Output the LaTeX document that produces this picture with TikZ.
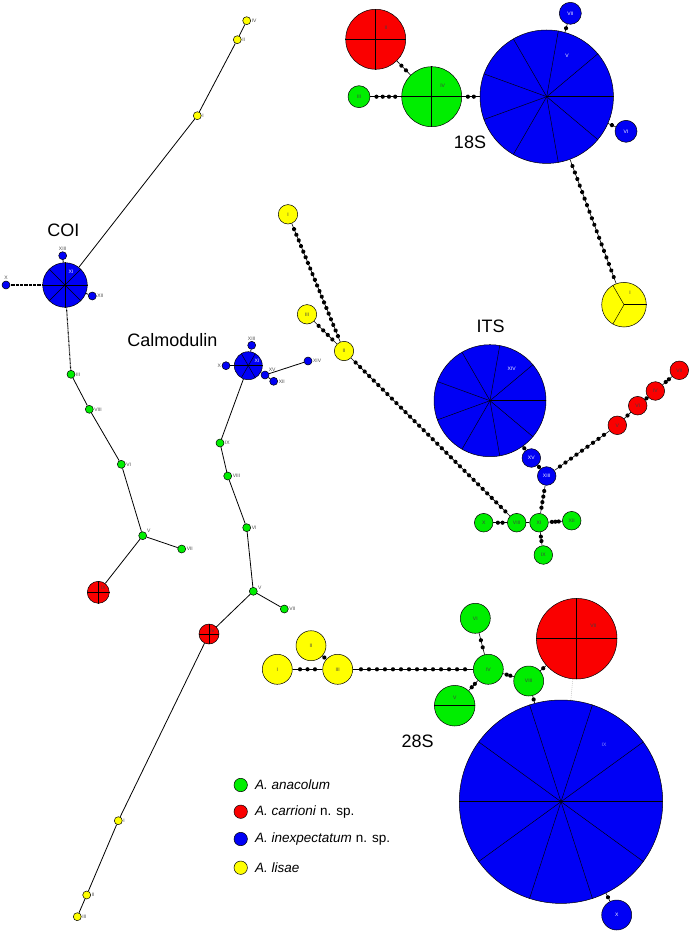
\documentclass[tikz,border=0pt]{standalone}
\usepackage{fontspec}
\setmainfont{Liberation Sans}
\usetikzlibrary{decorations.markings}
\definecolor{hg}{RGB}{0,238,0}
\definecolor{hr}{RGB}{250,0,0}
\definecolor{hb}{RGB}{0,0,245}
\definecolor{hy}{RGB}{255,255,0}
\newcommand\pieslices[2]{\foreach \a in {#2} \draw[sl] (#1.center) -- (#1.\a);}
\begin{document}
\begin{tikzpicture}[x=1pt,y=-1pt,
  hap/.style={circle,draw=black,line width=0.5pt,inner sep=0pt,font=\fontsize{5}{6}\selectfont},
  G/.style={hap,fill=hg,text=black!75,minimum size=2*#1pt},
  R/.style={hap,fill=hr,text=black!75,minimum size=2*#1pt},
  B/.style={hap,fill=hb,text=white,minimum size=2*#1pt},
  Y/.style={hap,fill=hy,text=black!75,minimum size=2*#1pt},
  sl/.style={draw=black,line width=0.45pt},
  lab/.style={inner sep=0pt,font=\fontsize{5}{6}\selectfont},
  side/.style={inner sep=0.6pt,font=\fontsize{5}{6}\selectfont,text=black!70},
  title/.style={inner sep=0pt,font=\fontsize{18}{20}\selectfont},
  legtxt/.style={inner sep=0pt,anchor=west,font=\fontsize{13.5}{15}\selectfont},
  conn/.style={draw=black,line width=0.6pt},
  thin/.style={draw=black,line width=0.8pt},
  dense/.style={draw=black,line width=1.1pt,dash pattern=on 0.7pt off 0.6pt},
  faint/.style={draw=black!25,line width=0.5pt,dash pattern=on 1pt off 1pt},
  mut/.style={conn,postaction={decorate,decoration={markings,
     mark=between positions 1/(#1+1) and (#1+0.5)/(#1+1) step 1/(#1+1) with {\fill[black] (0,0) circle (2.1pt);}}}}
]
\useasboundingbox (0,0) rectangle (691,933);

% ================= 18S =================
\node[R=30] (s2) at (375.7,39.3) {};
\node[G=30] (s4) at (431.7,96.7) {};
\node[G=11] (s3) at (359,96.7) {III};
\node[B=66.7] (s5) at (546.7,96.7) {};
\node[B=11] (s7) at (570.3,13.3) {VII};
\node[B=11] (s6) at (626,131.3) {VI};
\node[Y=22.3] (s1) at (624,304.7) {};
\pieslices{s2}{0,90,180,270}
\pieslices{s4}{0,90,180,270}
\pieslices{s5}{0,40,80,120,160,200,240,280,320}
\pieslices{s1}{0,120,240}
\node[lab,text=black!75] (s2l) at (386,28) {II};
\node[lab,text=black!75] (s4l) at (442.7,86) {IV};
\node[lab,text=white] (s5l) at (567,55.7) {V};
\node[lab,text=black!75] (s1l) at (630,293) {I};
\draw[mut=4] (s3) -- (s4);
\draw[mut=2] (s4) -- (s5);
\draw[mut=2] (s2) -- (s4);
\draw[mut=1] (s5) -- (s7);
\draw[mut=1] (s5) -- (s6);
\draw[mut=18] (s5) -- (s1);
\node[title] (t18s) at (470,142.7) {18S};

% ================= COI =================
\node[Y=4,label={[side]0:IV}] (c4) at (246.7,20.7) {};
\node[Y=4,label={[side]0:II}] (c2) at (237.3,39.7) {};
\node[Y=4,label={[side]0:I}] (c1) at (197.3,115.7) {};
\node[B=22.3] (c11) at (65,285) {};
\pieslices{c11}{0,45,90,135,180,225,270,315}
\node[lab,text=white] (c11l) at (71,271.7) {XI};
\node[B=4,label={[side]90:XIII}] (c13) at (62.7,255.7) {};
\node[B=4,label={[side]90:X}] (c10) at (6,285) {};
\node[B=4,label={[side]0:XII}] (c12) at (92.3,296) {};
\node[G=4,label={[side]0:III}] (c3) at (71,374.3) {};
\node[G=4,label={[side]0:VIII}] (c8) at (89.3,409.3) {};
\node[G=4,label={[side]0:VI}] (c6) at (121.3,464.3) {};
\node[G=4,label={[side]30:V}] (c5) at (142.7,535.7) {};
\node[G=4,label={[side]0:VII}] (c7) at (181.7,549) {};
\node[R=11] (c9) at (98.3,592.3) {};
\pieslices{c9}{0,90,180,270}
\node[lab,text=black!75] (c9l) at (103.3,587.7) {IX};
\draw[thin] (c4) -- (c2);
\draw[thin] (c2) -- (c1);
\draw[thin] (c1) -- (c11);
\draw[thin] (c11) -- (c13);
\draw[thin] (c11) -- (c12);
\draw[dense] (c11) -- (c10);
\draw[dense] (c11) -- (c3);
\draw[thin] (c3) -- (c8);
\draw[thin] (c8) -- (c6);
\draw[thin] (c6) -- (c5);
\draw[thin] (c5) -- (c7);
\draw[thin] (c5) -- (c9);
\node[title] (tcoi) at (63.3,230.7) {COI};

% ================= Calmodulin =================
\node[B=14] (m11) at (248.3,365.7) {};
\pieslices{m11}{0,60,120,180,240,300}
\node[lab,text=white] (m11l) at (257,360.7) {XI};
\node[B=4,label={[side]90:XIII}] (m13) at (251.7,345.3) {};
\node[B=4,label={[side]180:X}] (m10) at (226,365.7) {};
\node[B=4,label={[side]45:XV}] (m15) at (265,375) {};
\node[B=4,label={[side]0:XII}] (m12) at (273.7,381.3) {};
\node[B=4,label={[side]0:XIV}] (m14) at (308,361) {};
\node[G=4,label={[side]0:IX}] (m9) at (220,443) {};
\node[G=4,label={[side]0:VIII}] (m8) at (227.7,476) {};
\node[G=4,label={[side]0:VI}] (m6) at (246.7,527.7) {};
\node[G=4,label={[side]20:V}] (m5) at (253.3,591.3) {};
\node[G=4,label={[side]0:VII}] (m7) at (284.3,609) {};
\node[R=10] (m4) at (209,634) {};
\pieslices{m4}{0,90,180,270}
\node[lab,text=black!75] (m4l) at (212.3,631) {IV};
\node[Y=4,label={[side]0:I}] (m1) at (118.3,820.7) {};
\node[Y=4,label={[side]0:II}] (m2) at (86.7,895) {};
\node[Y=4,label={[side]0:III}] (m3) at (77.3,916.7) {};
\draw[thin] (m11) -- (m10);
\draw[thin] (m11) -- (m13);
\draw[thin] (m11) -- (m15);
\draw[thin] (m15) -- (m12);
\draw[thin] (m15) -- (m14);
\draw[thin] (m11) -- (m9);
\draw[thin] (m9) -- (m8);
\draw[thin] (m8) -- (m6);
\draw[thin] (m6) -- (m5);
\draw[thin] (m5) -- (m7);
\draw[thin] (m5) -- (m4);
\draw[thin] (m4) -- (m1);
\draw[thin] (m1) -- (m2);
\draw[thin] (m2) -- (m3);
\node[title] (tcal) at (172.5,340) {Calmodulin};

% ================= ITS =================
\node[Y=9.7] (t1) at (288,214.3) {I};
\node[Y=9.7] (t3) at (307,314.3) {III};
\node[Y=9.7] (t2) at (344,351) {II};
\node[B=56] (t14) at (490,400.7) {};
\pieslices{t14}{0,40,80,120,160,200,240,280,320}
\node[lab,text=white] (t14l) at (511.7,368.3) {XIV};
\node[B=9.3] (t15) at (531.3,458) {XV};
\node[B=9.3] (t13) at (546.7,476) {XIII};
\node[R=9.3] (t5) at (617.3,425.3) {V};
\node[R=9.3] (t6) at (637.7,405.7) {VI};
\node[R=9.3] (t4) at (655.3,391) {IV};
\node[R=9.3] (t7) at (679.3,370.3) {VII};
\node[G=9.3] (t10) at (483.7,522.7) {X};
\node[G=9.3] (t8) at (516.7,522.7) {VIII};
\node[G=9.3] (t11) at (539,522.7) {XI};
\node[G=9.3] (t12) at (571.7,520.7) {XII};
\node[G=9.3] (t9) at (543.3,555) {IX};
\draw[mut=20] (t1) -- (t2);
\draw[mut=4] (t3) -- (t2);
\draw[mut=34] (t2) -- (t8);
\draw[mut=1] (t14) -- (t15);
\draw[mut=1] (t15) -- (t13);
\draw[mut=9] (t13) -- (t5);
\draw[mut=1] (t5) -- (t6);
\draw[mut=1] (t6) -- (t4);
\draw[mut=2] (t4) -- (t7);
\draw[mut=4] (t13) -- (t11);
\draw[mut=2] (t10) -- (t8);
\draw[conn] (t8) -- (t11);
\draw[mut=3] (t11) -- (t12);
\draw[mut=2] (t11) -- (t9);
\node[title] (tits) at (490.7,326) {ITS};

% ================= 28S =================
\node[Y=15] (r1) at (277.3,669.3) {I};
\node[Y=15] (r2) at (311,645.7) {II};
\node[Y=15] (r3) at (337.7,669.3) {III};
\node[G=15] (r4) at (488.3,669.3) {IV};
\node[G=15] (r6) at (475.3,618.3) {VI};
\node[G=20.3] (r5) at (454.7,705.7) {};
\pieslices{r5}{0,180}
\node[lab,text=black!75] (r5l) at (454.7,698) {V};
\node[G=15] (r8) at (528.7,681) {VIII};
\node[R=40.3] (r7) at (576.7,638.7) {};
\pieslices{r7}{0,90,180,270}
\node[lab,text=black!75] (r7l) at (593.3,626) {VII};
\node[B=101.7] (r9) at (561,801.7) {};
\pieslices{r9}{0,36,72,108,144,180,216,252,288,324}
\node[lab,text=hb!45!white] (r9l) at (604,744.3) {IX};
\node[B=15] (r10) at (616.7,915) {X};
\draw[mut=3] (r1) -- (r3);
\draw[mut=1] (r2) -- (r3);
\draw[mut=14] (r3) -- (r4);
\draw[mut=2] (r4) -- (r6);
\draw[mut=2] (r4) -- (r5);
\draw[mut=2] (r4) -- (r8);
\draw[mut=1] (r8) -- (r9);
\draw[mut=1] (r8) -- (r7);
\draw[mut=1] (r9) -- (r10);
\draw[faint] (r7) -- (r9);
\node[title] (t28s) at (417.7,741.7) {28S};

% ================= Legend =================
\node[G=6.7] (lg) at (240.7,785) {};
\node[legtxt] (lgt) at (255,785) {\textit{A. anacolum}};
\node[R=6.7] (lr) at (240.7,811.7) {};
\node[legtxt] (lrt) at (255,811.7) {\textit{A. carrioni} n. sp.};
\node[B=6.7] (lb) at (240.7,839) {};
\node[legtxt] (lbt) at (255,839) {\textit{A. inexpectatum} n. sp.};
\node[Y=6.7] (ly) at (240.7,867.7) {};
\node[legtxt] (lyt) at (255,867.7) {\textit{A. lisae}};
\end{tikzpicture}
\end{document}
